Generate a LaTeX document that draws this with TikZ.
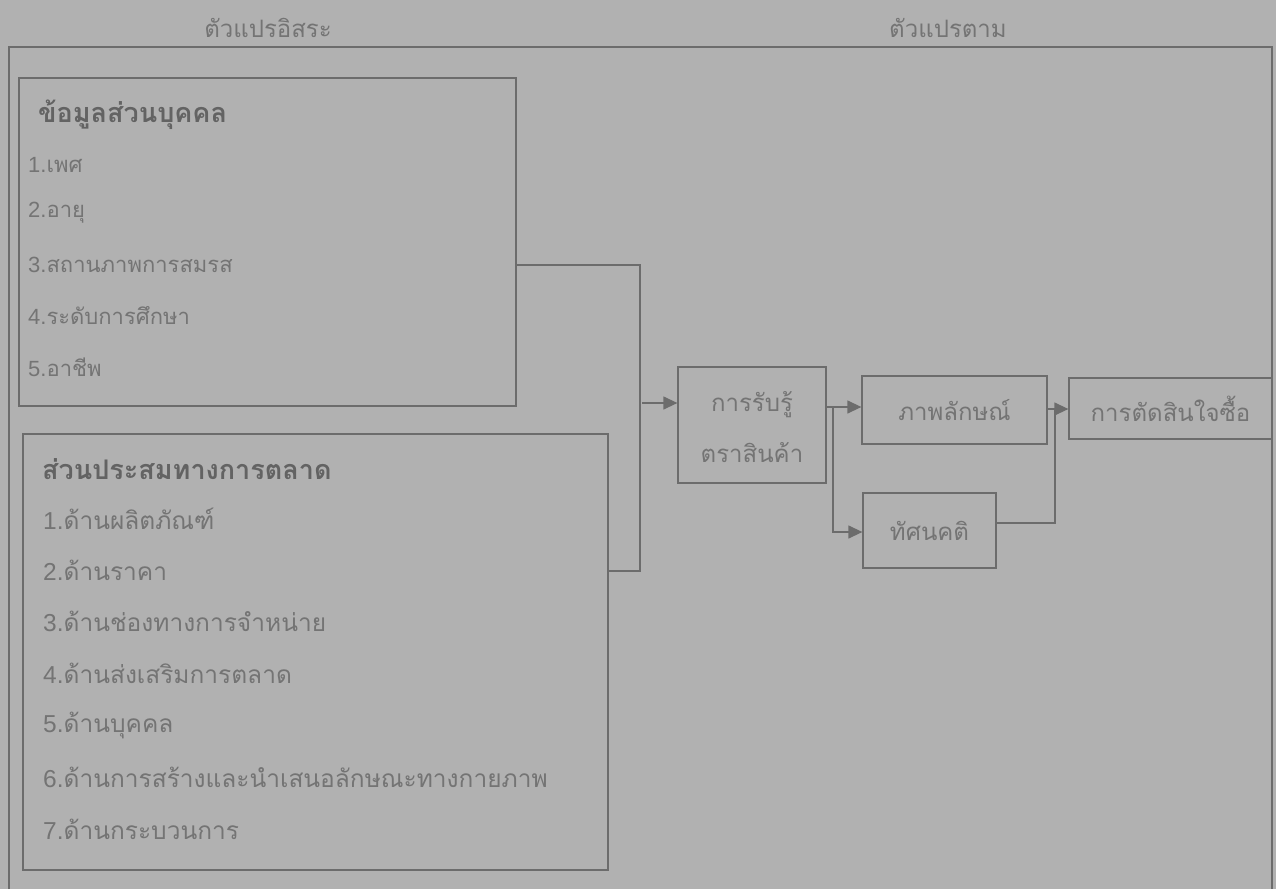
\documentclass[tikz,border=0pt]{standalone}
\usepackage{fontspec}
\setmainfont[Script=Thai]{Loma}
\newfontfamily\latf{Liberation Sans}
\usetikzlibrary{arrows.meta}
\definecolor{bgc}{HTML}{B1B1B1}
\definecolor{lnc}{HTML}{6C6C6C}
\definecolor{txc}{HTML}{747474}
\tikzset{
  box/.style={draw=lnc, line width=1.3pt, minimum width=#1, inner sep=0pt},
  itm/.style={anchor=west, text=txc, font=\fontsize{22}{25}\selectfont, inner sep=0pt},
  itmb/.style={anchor=west, text=txc, font=\fontsize{24.5}{27}\selectfont, inner sep=0pt},
  ttl/.style={anchor=west, text=txc!85!black, font=\fontsize{27}{30}\selectfont\bfseries, inner sep=0pt},
  lbl/.style={text=txc, font=\fontsize{24}{27}\selectfont, inner sep=0pt},
  con/.style={draw=lnc, line width=1.3pt},
  arr/.style={con, -{Triangle[length=14pt,width=13pt]}}
}
\newcommand{\nm}[1]{{\latf #1}}
\begin{document}
\begin{tikzpicture}[x=1pt,y=-1pt]
\fill[bgc] (0,0) rectangle (1276,889);
\useasboundingbox (0,0) rectangle (1276,889);
% outer frame
\coordinate (fbl) at (9,889);
\coordinate (ftl) at (9,47);
\coordinate (ftr) at (1272,47);
\coordinate (fbr) at (1272,889);
\draw[con] (fbl) -- (ftl) -- (ftr) -- (fbr);
\node[lbl] (hl) at (268,28) {ตัวแปรอิสระ};
\node[lbl] (hr) at (948,28) {ตัวแปรตาม};
% box 1
\node[box=497pt, minimum height=328pt] (b1) at (267.5,242) {};
\node[ttl] (t1) at (38,115) {ข้อมูลส่วนบุคคล};
\node[itm] (a1) at (28,165) {\nm{1.}เพศ};
\node[itm] (a2) at (28,213) {\nm{2.}อายุ};
\node[itm] (a3) at (28,265) {\nm{3.}สถานภาพการสมรส};
\node[itm] (a4) at (28,316) {\nm{4.}ระดับการศึกษา};
\node[itm] (a5) at (28,367) {\nm{5.}อาชีพ};
% box 2
\node[box=585pt, minimum height=436pt] (b2) at (315.5,652) {};
\node[ttl] (t2) at (42,469) {ส่วนประสมทางการตลาด};
\node[itmb] (m1) at (43,519) {\nm{1.}ด้านผลิตภัณฑ์};
\node[itmb] (m2) at (43,570) {\nm{2.}ด้านราคา};
\node[itmb] (m3) at (43,621) {\nm{3.}ด้านช่องทางการจำหน่าย};
\node[itmb] (m4) at (43,673) {\nm{4.}ด้านส่งเสริมการตลาด};
\node[itmb] (m5) at (43,725) {\nm{5.}ด้านบุคคล};
\node[itmb] (m6) at (43,777) {\nm{6.}ด้านการสร้างและนำเสนอลักษณะทางกายภาพ};
\node[itmb] (m7) at (43,829) {\nm{7.}ด้านกระบวนการ};
% right boxes
\node[box=148pt, minimum height=116pt] (pc) at (752,425) {};
\node[lbl] (pc1) at (752,405) {การรับรู้};
\node[lbl] (pc2) at (752,453) {ตราสินค้า};
\node[box=185pt, minimum height=68pt, lbl] (im) at (954.5,410) {ภาพลักษณ์};
\node[box=133pt, minimum height=75pt, lbl] (at) at (929.5,530.5) {ทัศนคติ};
\node[box=203pt, minimum height=61pt, lbl] (dc) at (1170.5,408.5) {การตัดสินใจซื้อ};
% connectors
\coordinate (j1) at (640,265);
\coordinate (j2) at (640,571);
\coordinate (j3) at (642,403);
\draw[con] (b1.east |- j1) -- (j1) -- (j2) -- (b2.east |- j2);
\draw[arr] (j3) -- (pc.west |- j3);
\coordinate (k1) at (826,407);
\coordinate (k2) at (833,407);
\coordinate (k3) at (833,532);
\draw[arr] (pc.east |- k1) -- (im.west |- k1);
\draw[arr] (k2) -- (k3) -- (at.west |- k3);
\coordinate (q1) at (1055,409);
\coordinate (q2) at (1055,523);
\draw[arr] (im.east |- q1) -- (dc.west |- q1);
\draw[con] (at.east |- q2) -- (q2) -- (q1);
\end{tikzpicture}
\end{document}
